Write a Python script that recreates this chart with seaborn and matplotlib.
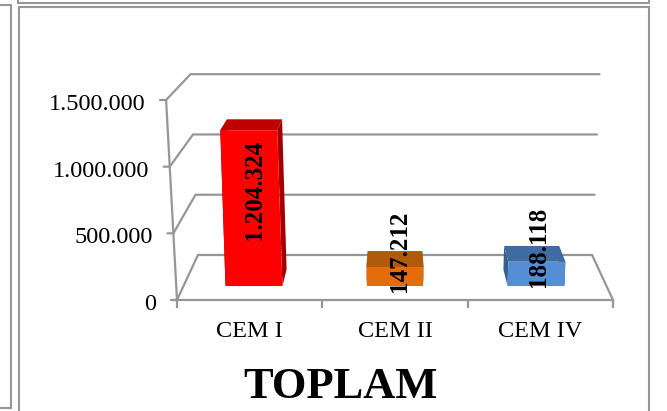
import numpy as np
import pandas as pd
import matplotlib
matplotlib.use("Agg")
import matplotlib.pyplot as plt
import seaborn as sns
from matplotlib.lines import Line2D
from matplotlib.patches import Polygon
from matplotlib.transforms import Affine2D, ScaledTranslation

categories = ["CEM I", "CEM II", "CEM IV"]
values = [1204324, 147212, 188118]
value_labels = ["1.204.324", "147.212", "188.118"]
y_ticks = [0, 500000, 1000000, 1500000]
y_tick_labels = ["0", "500.000", "1.000.000", "1.500.000"]
title = "TOPLAM"

front_colors = ["#ff0000", "#e46c0a", "#558ed5"]
top_colors = ["#c00000", "#b05a0a", "#3f6ca3"]
side_colors = ["#a00000", "#8f4a08", "#35608f"]
GRID = "#969696"
W, H = 667, 411
VMAX = 1500000
BAR_D0, BAR_D1 = 0.31, 0.68
label_offsets_px = [(6, 60), (4, -16), (2, -15)]  # right, down from bar top

sns.set_style("white")
plt.rcParams["font.family"] = ["Liberation Serif", "DejaVu Serif"]

fig = plt.figure(figsize=(W / 100, H / 100), dpi=100, facecolor="white")
# the axes is the front plane of the 3-D box
ax = fig.add_axes([177 / W, (H - 300) / H, (613 - 177) / W, 200 / H])


def project(x, v, d):
    """Map category position, value, depth (0 front .. 1 back) to front-plane data."""
    shrink = 1 - 0.096 * d
    lean = 1 + 0.05 * (v / VMAX) * (1 - 0.25 * d)
    return 1 + (x - 1) * shrink * lean, 0.225 * VMAX * d + v * shrink


def wire(points, **kw):
    xs, ys = zip(*[project(*p) for p in points])
    ax.plot(xs, ys, color=GRID, lw=1.6, clip_on=False, zorder=1,
            solid_capstyle="round", solid_joinstyle="miter", **kw)


def edge(xc, hw, v, d):
    """Left and right corners of a bar's horizontal edge at value v, depth d."""
    x, y = project(xc, v, d)
    half = hw * (1 - 0.096 * d)
    return (x - half, y), (x + half, y)


df = pd.DataFrame({"cat": categories, "val": values})
sns.barplot(data=df, x="cat", y="val", hue="cat", palette=front_colors, saturation=1,
            width=0.404, legend=False, ax=ax, linewidth=0, zorder=3)
ax.set_xlim(-0.5, 2.5)
ax.set_ylim(0, VMAX)
ax.set_xlabel("")
ax.set_ylabel("")
for s in ax.spines.values():
    s.set_visible(False)
ax.patch.set_alpha(0)

# box wireframe
left, right = -0.5, 2.5
for v in y_ticks:
    wire([(left - 0.04, v, 0), (left, v, 0), (left, v, 1), (right, v, 1)])
wire([(left, 0, 0), (left, VMAX, 0)])
wire([(left - 0.04, 0, 0), (right, 0, 0), (right, 0, 1)])

# bars: seaborn draws the front faces; depth faces are built from them
for i, bar in enumerate(ax.patches):
    x0, w, v = bar.get_x(), bar.get_width(), bar.get_height()
    xc, hw = x0 + w / 2, w / 2
    fb_l, fb_r = edge(xc, hw, 0, BAR_D0)
    ft_l, ft_r = edge(xc, hw, v, BAR_D0)
    bb_l, bb_r = edge(xc, hw, 0, BAR_D1)
    bt_l, bt_r = edge(xc, hw, v, BAR_D1)
    src = np.array([[x0, 0, 1], [x0 + w, 0, 1], [x0, v, 1]])
    dst = np.array([fb_l, fb_r, ft_l])
    m = np.linalg.solve(src, dst)
    bar.set_transform(Affine2D(np.vstack([m.T, [0, 0, 1]])) + ax.transData)
    bar.set_clip_on(False)
    bar.set_edgecolor("none")
    for pts in ([fb_l, bb_l, bt_l, ft_l], [fb_r, bb_r, bt_r, ft_r]):
        ax.add_patch(Polygon(pts, closed=True, fc=side_colors[i], ec="none",
                             clip_on=False, zorder=2))
    ax.add_patch(Polygon([ft_l, bt_l, bt_r, ft_r], closed=True, fc=top_colors[i],
                         ec="none", clip_on=False, zorder=2.5))
    cx, cy = project(xc, v, BAR_D0)
    dx, dy = label_offsets_px[i]
    ax.annotate(value_labels[i], (cx, cy), xytext=(dx * 0.72, -dy * 0.72),
                textcoords="offset points", rotation=90, ha="center", va="center",
                fontsize=18, fontweight="bold", color="black", zorder=5,
                annotation_clip=False)

# ticks and labels
ax.set_xticks(range(len(categories)), categories)
ax.set_xticks([-0.5, 0.5, 1.5, 2.5], minor=True)
ax.tick_params(axis="x", which="major", length=0, pad=15, labelsize=17.5,
               labelcolor="black")
ax.tick_params(axis="x", which="minor", length=5.8, width=1.6, color=GRID, bottom=True)
ax.set_yticks(y_ticks, y_tick_labels)
ax.tick_params(axis="y", which="major", length=0, pad=14.8, labelsize=17.5,
               labelcolor="black", left=True)
nudge = ScaledTranslation(0, -2 / 100, fig.dpi_scale_trans)
for lab, v in zip(ax.get_yticklabels(), y_ticks):
    lab.set_x((project(left, v, 0)[0] - left) / 3)
    lab.set_transform(lab.get_transform() + nudge)

fig.text(340 / W, (H - 398) / H, title, ha="center", va="baseline",
         fontsize=32, fontweight="bold", color="black")

# surrounding page-table rules
def rule(x0, y0, x1, y1):
    fig.add_artist(Line2D([x0 / W, x1 / W], [1 - y0 / H, 1 - y1 / H], color=GRID, lw=1.5,
                          transform=fig.transFigure))

rule(0, 5, 11, 5)
rule(11, 5, 11, 408)
rule(0, 408, 11, 408)
rule(17.5, 0, 17.5, 3)
rule(17.5, 3, 649, 3)
rule(649, 0, 649, 3)
rule(19, 7, 649, 7)
rule(19, 7, 19, 411)
rule(649, 7, 649, 411)

fig.savefig("out.png", dpi=100, facecolor="white")
